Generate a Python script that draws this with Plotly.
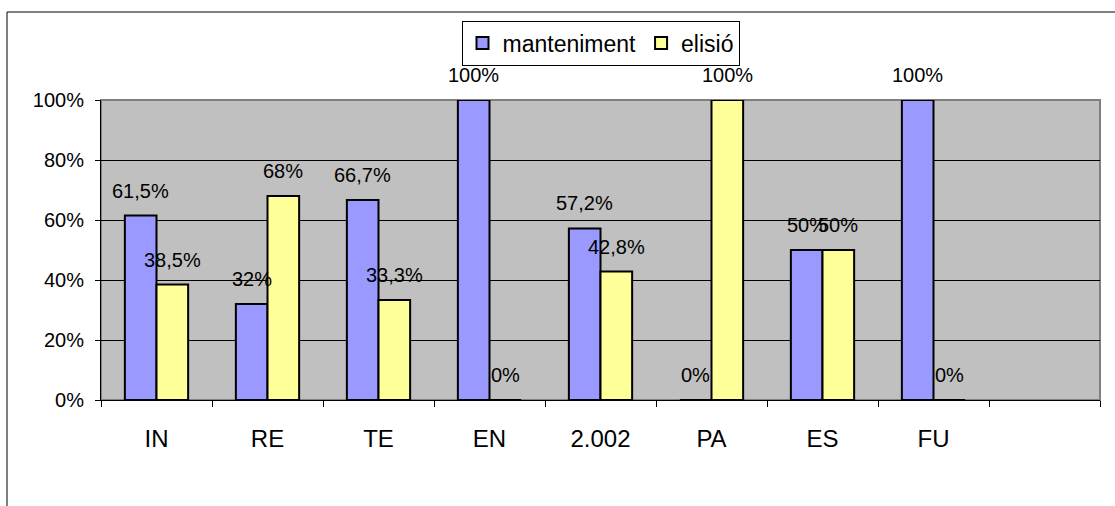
import plotly.graph_objects as go

categories = ["IN", "RE", "TE", "EN", "2.002", "PA", "ES", "FU"]
manteniment = [61.5, 32, 66.7, 100, 57.2, 0, 50, 100]
elisio = [38.5, 68, 33.3, 0, 42.8, 100, 50, 0]
ytick_vals = [0, 20, 40, 60, 80, 100]
ytick_text = ["0%", "20%", "40%", "60%", "80%", "100%"]

FONT = "Liberation Sans, Arial, sans-serif"
BLUE = "#9999FF"
YELLOW = "#FFFF99"

W, H = 1115, 506
L, R, T, B = 101, 15, 100, 106
pw, ph = W - L - R, H - T - B

def fmt(v):
    if float(v).is_integer():
        return f"{int(v)}%"
    return f"{v:.1f}".replace(".", ",") + "%"

x = list(range(len(categories)))
fig = go.Figure()
fig.add_trace(go.Bar(x=x, y=manteniment, name="manteniment",
                     marker=dict(color=BLUE, line=dict(color="black", width=2))))
fig.add_trace(go.Bar(x=x, y=elisio, name="elisió",
                     marker=dict(color=YELLOW, line=dict(color="black", width=2))))

bargap = 0.43
barw_px = (1 - bargap) / 2 * pw / 9
for series, sign in ((manteniment, -1), (elisio, 1)):
    for xi, v in zip(x, series):
        fig.add_annotation(x=xi, y=v, text=fmt(v), showarrow=False,
                           xshift=sign * barw_px / 2, yshift=25,
                           xanchor="center", yanchor="middle",
                           font=dict(family=FONT, size=20, color="black"))

# plot area border (gray)
fig.add_shape(type="rect", xref="paper", yref="paper", x0=0, x1=1, y0=0, y1=1,
              line=dict(color="#808080", width=2), layer="between")
# outer chart frame
fig.add_shape(type="rect", xref="paper", yref="paper",
              x0=(7 - L) / pw, x1=(W + 20 - L) / pw,
              y0=-(H + 20 - T - ph) / ph, y1=1 + (T - 12) / ph,
              line=dict(color="black", width=1), fillcolor="rgba(0,0,0,0)")

fig.update_layout(
    width=W, height=H,
    margin=dict(l=L, r=R, t=T, b=B, pad=0),
    paper_bgcolor="white", plot_bgcolor="#C0C0C0",
    barmode="group", bargap=bargap, bargroupgap=0,
    font=dict(family=FONT, size=20, color="black"),
    showlegend=True,
    legend=dict(orientation="h", x=0.5, xanchor="center", y=1 + (100 - 43) / ph, yanchor="middle",
                bgcolor="white", bordercolor="black", borderwidth=1,
                font=dict(family=FONT, size=23, color="black"),
                traceorder="normal", tracegroupgap=0,
                itemwidth=30),
    xaxis=dict(range=[-0.5, 8.5], tickmode="array", tickvals=x, ticktext=categories,
               ticks="", showgrid=False, zeroline=False,
               showline=True, linecolor="black", linewidth=1,
               ticklabelstandoff=17,
               tickfont=dict(family=FONT, size=24, color="black"),
               minor=dict(tickmode="array", tickvals=[i - 0.5 for i in range(10)],
                          ticks="outside", ticklen=6, tickcolor="black", tickwidth=1,
                          showgrid=False)),
    yaxis=dict(range=[0, 100], tickmode="array", tickvals=ytick_vals, ticktext=ytick_text,
               ticks="outside", ticklen=5, tickcolor="black",
               showgrid=True, gridcolor="black", gridwidth=1, zeroline=False,
               showline=True, linecolor="black", linewidth=1,
               ticklabelstandoff=7,
               tickfont=dict(family=FONT, size=20, color="black")),
)

fig.write_html("out.html")
